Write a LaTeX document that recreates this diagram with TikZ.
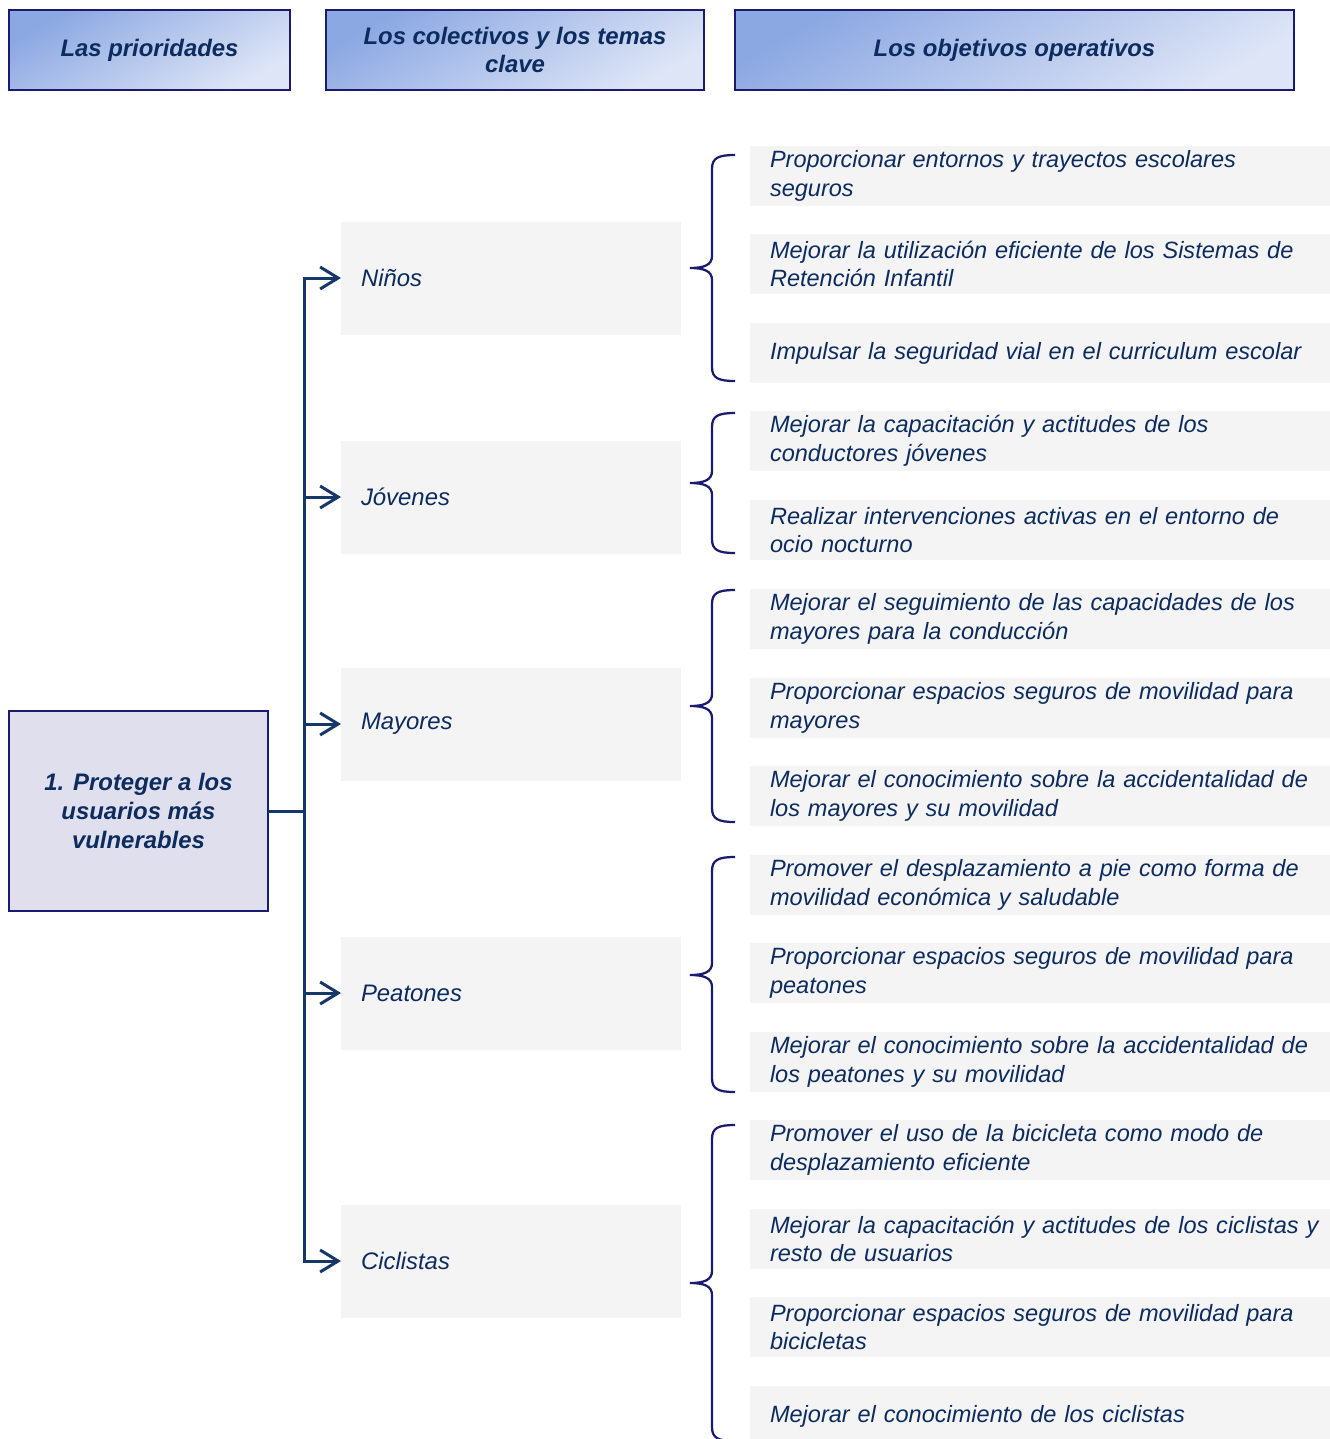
\documentclass[tikz,border=0pt]{standalone}
\usepackage{fontspec}
\setmainfont{Liberation Sans}
\usetikzlibrary{arrows.meta}

\definecolor{navytext}{RGB}{12,44,96}
\definecolor{navyline}{RGB}{22,56,104}
\definecolor{navyedge}{RGB}{26,26,112}
\definecolor{headdark}{RGB}{140,168,226}
\definecolor{headlight}{RGB}{222,229,246}
\definecolor{priofill}{RGB}{224,223,238}
\definecolor{boxgray}{RGB}{244,244,244}

% curly bracket: top, tip, bottom
\newcommand{\objbrace}[3]{%
  \draw[bracestyle] (735,#1) .. controls (718,#1) and (712,#1+3) .. (712,#1+14) -- (712,#2-12)
    .. controls (712,#2-3) and (704,#2) .. (690,#2) .. controls (704,#2) and (712,#2+3) .. (712,#2+12)
    -- (712,#3-14) .. controls (712,#3-3) and (718,#3) .. (735,#3);}

\begin{document}
\begin{tikzpicture}[x=0.2mm, y=-0.2mm,
	every node/.style={font=\fontsize{13.6pt}{16.4pt}\selectfont\itshape, text=navytext, inner sep=0pt, outer sep=0pt},
	head/.style={draw=navyedge, line width=0.4mm, top color=headdark, bottom color=headlight, shading angle=30, minimum height=16mm, align=center, font=\fontsize{13.6pt}{16.4pt}\selectfont\bfseries\itshape},
	prio/.style={draw=navyedge, line width=0.4mm, fill=priofill, minimum width=51.8mm, minimum height=40mm, align=center, font=\fontsize{13.6pt}{16.4pt}\selectfont\bfseries\itshape},
	cat/.style={fill=boxgray, anchor=west, minimum height=22.6mm, inner xsep=4mm, text width=60mm, align=left},
	obj/.style={fill=boxgray, anchor=west, minimum height=12mm, inner xsep=4mm, text width=112mm, align=left, font=\fontsize{13.4pt}{16.3pt}\selectfont\itshape},
	link/.style={draw=navyline, line width=0.6mm, -{Straight Barb[length=3.6mm,width=4.4mm]}},
	bracestyle/.style={draw=navyedge, line width=0.45mm}]
	\useasboundingbox (0,0) rectangle (1330,1439);

	\node[head, minimum width=56.2mm] (hprio) at (149.5,50) {Las prioridades};
	\node[head, minimum width=75.6mm] (hcol) at (515,50) {Los colectivos y los temas\\clave};
	\node[head, minimum width=111.8mm] (hobj) at (1014.5,50) {Los objetivos operativos};

	\node[prio] (prio) at (138.5,811) {1. Proteger a los\\usuarios más\\vulnerables};

	\node[cat] (nin) at (341,278) {Niños};
	\node[cat] (jov) at (341,497) {Jóvenes};
	\node[cat] (may) at (341,724) {Mayores};
	\node[cat] (pea) at (341,993) {Peatones};
	\node[cat] (cic) at (341,1261) {Ciclistas};

	\node[obj] (n1) at (750,176) {Proporcionar entornos y trayectos escolares\\seguros};
	\node[obj] (n2) at (750,264) {Mejorar la utilización eficiente de los Sistemas de\\Retención Infantil};
	\node[obj] (n3) at (750,353) {Impulsar la seguridad vial en el curriculum escolar};
	\node[obj] (j1) at (750,441) {Mejorar la capacitación y actitudes de los\\conductores jóvenes};
	\node[obj] (j2) at (750,530) {Realizar intervenciones activas en el entorno de\\ocio nocturno};
	\node[obj] (m1) at (750,619) {Mejorar el seguimiento de las capacidades de los\\mayores para la conducción};
	\node[obj] (m2) at (750,708) {Proporcionar espacios seguros de movilidad para\\mayores};
	\node[obj] (m3) at (750,796) {Mejorar el conocimiento sobre la accidentalidad de\\los mayores y su movilidad};
	\node[obj] (p1) at (750,885) {Promover el desplazamiento a pie como forma de\\movilidad económica y saludable};
	\node[obj] (p2) at (750,973) {Proporcionar espacios seguros de movilidad para\\peatones};
	\node[obj] (p3) at (750,1062) {Mejorar el conocimiento sobre la accidentalidad de\\los peatones y su movilidad};
	\node[obj] (c1) at (750,1150) {Promover el uso de la bicicleta como modo de\\desplazamiento eficiente};
	\node[obj] (c2) at (750,1239) {Mejorar la capacitación y actitudes de los ciclistas y\\resto de usuarios};
	\node[obj] (c3) at (750,1327) {Proporcionar espacios seguros de movilidad para\\bicicletas};
	\node[obj] (c4) at (750,1416) {Mejorar el conocimiento de los ciclistas};

	\coordinate (trunk) at (304,811);
	\draw[link] (prio.east) -- (trunk) |- (nin.west);
	\draw[link] (prio.east) -- (trunk) |- (jov.west);
	\draw[link] (prio.east) -- (trunk) |- (may.west);
	\draw[link] (prio.east) -- (trunk) |- (pea.west);
	\draw[link] (prio.east) -- (trunk) |- (cic.west);

	\objbrace{155}{268}{381}
	\objbrace{413}{483}{553}
	\objbrace{590}{706}{822}
	\objbrace{857}{975}{1092}
	\objbrace{1125}{1283}{1441}
\end{tikzpicture}
\end{document}
